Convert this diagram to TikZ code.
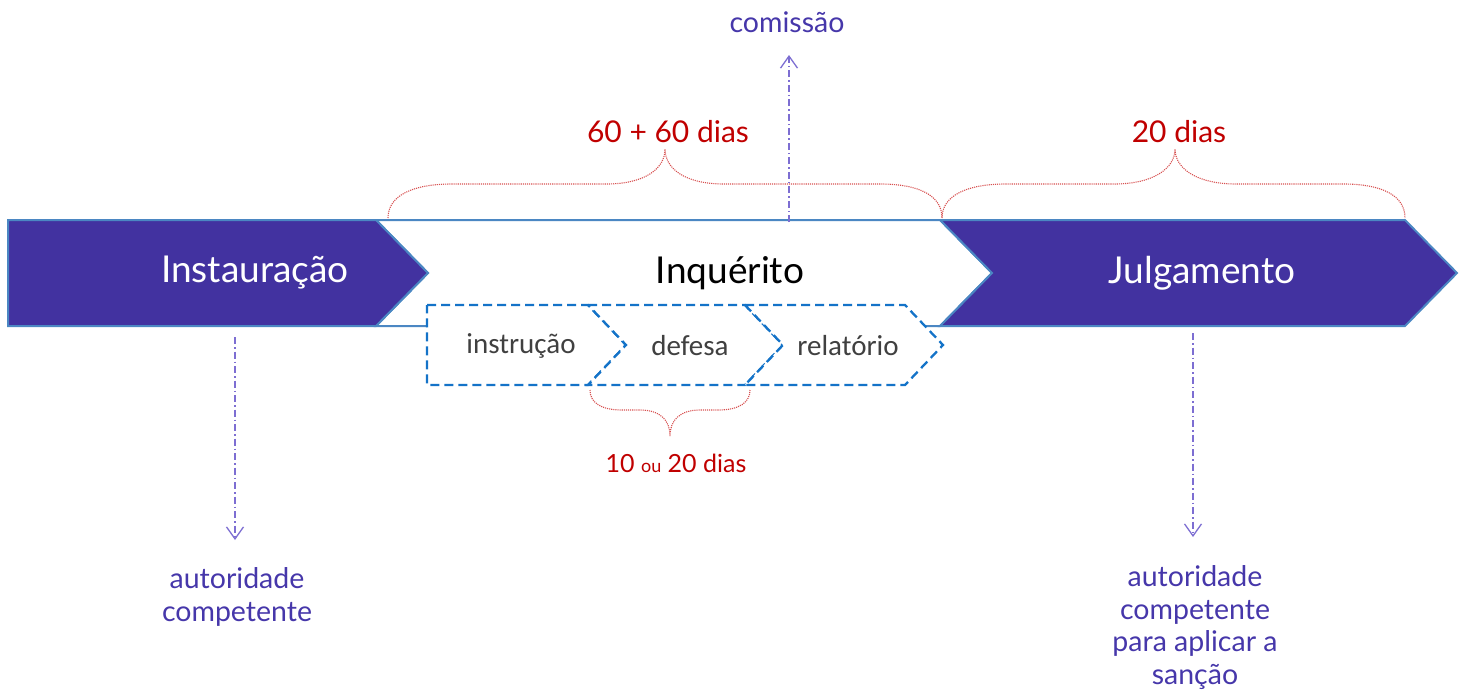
\documentclass[tikz,border=0pt]{standalone}
\usepackage{fontspec}
\setmainfont{Lato}
\newfontfamily\calib{Carlito}
\usetikzlibrary{arrows.meta}
\definecolor{chev}{RGB}{66,50,160}
\definecolor{edgeblue}{RGB}{75,135,195}
\definecolor{dashblue}{RGB}{20,115,200}
\definecolor{labpurple}{RGB}{70,55,170}
\definecolor{arrpurple}{RGB}{125,110,210}
\definecolor{dred}{RGB}{192,0,0}
\definecolor{bracered}{RGB}{215,80,80}
\definecolor{stepgray}{RGB}{64,64,64}
\begin{document}
\begin{tikzpicture}[x=1pt,y=-1pt,
  chevbox/.style={fill=chev,draw=edgeblue,line width=2pt,line join=miter},
  inqbox/.style={fill=white,draw=edgeblue,line width=2pt,line join=miter},
  stepchev/.style={fill=white,draw=dashblue,line width=2.3pt,dash pattern=on 9pt off 5pt},
  bracepath/.style={draw=bracered,line width=1.1pt,densely dotted},
  ptr/.style={draw=arrpurple,line width=1.3pt,dash pattern=on 7pt off 3pt on 1.5pt off 3pt,
     -{Straight Barb[length=12pt,width=17pt,line width=1.3pt]}},
  headtxt/.style={font=\fontsize{37}{44}\selectfont},
  steptxt/.style={text=stepgray,font=\calib\fontsize{29}{34}\selectfont},
  redtxt/.style={text=dred,font=\fontsize{30}{36}\selectfont},
  labtxt/.style={text=labpurple,align=center,font=\fontsize{28.5}{32.7}\selectfont}
]
\useasboundingbox (0,0) rectangle (1466,691);

% main chevrons
\path[inqbox] (376,220) -- (940,220) -- (992,273) -- (940,326) -- (376,326) -- (428,273) -- cycle;
\path[chevbox] (8,220) -- (376,220) -- (428,273) -- (376,326) -- (8,326) -- cycle;
\path[chevbox] (940,220) -- (1405,220) -- (1457,273) -- (1405,326) -- (940,326) -- (992,273) -- cycle;

\node[headtxt,text=white] (inst) at (255,273) {Instauração};
\node[headtxt,text=black] (inq) at (730,273) {Inquérito};
\node[headtxt,text=white] (julg) at (1202,273) {Julgamento};

% sub-steps
\path[stepchev] (427,305) -- (588,305) -- (626,345) -- (588,385) -- (427,385) -- cycle;
\path[stepchev] (588,305) -- (745,305) -- (783,345) -- (745,385) -- (588,385) -- (626,345) -- cycle;
\path[stepchev] (745,305) -- (905,305) -- (943,345) -- (905,385) -- (745,385) -- (783,345) -- cycle;
\node[steptxt] (instr) at (521,346) {instrução};
\node[steptxt] (def) at (690,346) {defesa};
\node[steptxt] (rel) at (848,346) {relatório};

% braces
\path[bracepath] (388,218) .. controls (388,196) and (412,184) .. (452,184) -- (606,184)
  .. controls (646,184) and (665,168) .. (665,149)
  .. controls (665,168) and (684,184) .. (724,184) -- (880,184)
  .. controls (920,184) and (942,196) .. (942,218);
\path[bracepath] (942,218) .. controls (942,196) and (966,184) .. (1006,184) -- (1114,184)
  .. controls (1154,184) and (1175,168) .. (1175,149)
  .. controls (1175,168) and (1196,184) .. (1236,184) -- (1343,184)
  .. controls (1383,184) and (1405,196) .. (1405,218);
\path[bracepath] (590,390) .. controls (590,402) and (600,410) .. (622,410) -- (640,410)
  .. controls (660,410) and (670,420) .. (670,436)
  .. controls (670,420) and (680,410) .. (700,410) -- (718,410)
  .. controls (740,410) and (750,402) .. (750,390);

\node[redtxt] (d1) at (668,132) {60 + 60 dias};
\node[redtxt] (d2) at (1179,132) {20 dias};
\node[redtxt,font=\fontsize{25}{30}\selectfont] (d3) at (676,463) {10 {\fontsize{18}{20}\selectfont ou} 20 dias};

% pointers
\node[labtxt] (com) at (787,22) {comissão};
\node[labtxt,anchor=north] (aut1) at (237,564) {autoridade\\competente};
\node[labtxt,anchor=north] (aut2) at (1195,562) {autoridade\\competente\\para aplicar a\\sanção};
\coordinate (c0) at (789,222);
\coordinate (c1) at (235,337);
\coordinate (c2) at (1193,333);
\draw[ptr] (c0) -- (789,55);
\draw[ptr] (c1) -- (235,540);
\draw[ptr] (c2) -- (1193,537);
\end{tikzpicture}
\end{document}
